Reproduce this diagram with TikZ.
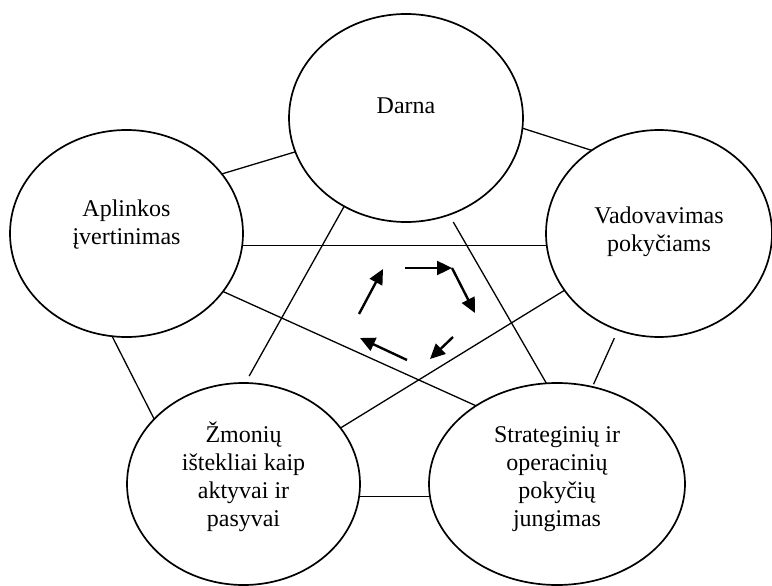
\documentclass[tikz,border=0pt]{standalone}
\usepackage{fontspec}
\setmainfont{Liberation Serif}
\usetikzlibrary{shapes.geometric,arrows.meta,calc}
\begin{document}
\begin{tikzpicture}[x=1pt,y=-1pt,
  oval/.style={draw,ellipse,line width=1.7pt,inner sep=0pt,outer sep=0pt},
  lbl/.style={align=center,font=\fontsize{24}{28}\selectfont,inner sep=0pt},
  link/.style={line width=1.3pt},
  flow/.style={line width=2.4pt,-{Triangle[length=15pt,width=14pt]}}]
\useasboundingbox (0,0) rectangle (772,586);
% ellipses
\node[oval,minimum width=234pt,minimum height=208pt] (D) at (406,118) {};
\node[oval,minimum width=233pt,minimum height=207pt] (A) at (126.5,233.5) {};
\node[oval,minimum width=226pt,minimum height=207pt] (V) at (659,233.5) {};
\node[oval,minimum width=233pt,minimum height=202pt] (Z) at (243.5,484) {};
\node[oval,minimum width=256pt,minimum height=202pt] (S) at (557,484) {};
% labels
\node[lbl] (Dt) at (406,106) {Darna};
\node[lbl] (At) at (126.5,225) {Aplinkos\\įvertinimas};
\node[lbl] (Vt) at (659,231.5) {Vadovavimas\\pokyčiams};
\node[lbl] (Zt) at (243.5,477) {Žmonių\\ištekliai kaip\\aktyvai ir\\pasyvai};
\node[lbl] (St) at (557,479) {Strateginių ir\\operacinių\\pokyčių\\jungimas};
% connectors
\draw[link] (A.32) -- (D.197);
\draw[link] (D.-5.9) -- (V.129.4);
\draw[link] (A.-6.2) -- (A.-6.2 -| V.186.4);
\draw[link,shorten >=8pt] (D.235.9) -- (Z.89);
\draw[link,shorten <=8.5pt] (D.-66.7) -- (S.96.8);
\draw[link] (A.-31.5) -- (S.136.1);
\draw[link] (V.211.7) -- (Z.30.9);
\draw[link,shorten <=9pt,shorten >=3pt] (V.247.2) -- (S.70.7);
\draw[link] (A.262) -- (Z.144.7);
\draw[link] (Z.-6.9) -- (Z.-6.9 -| S.186.3);
% cycle arrows
\coordinate (p1) at (359,314);
\coordinate (p2) at (383,269);
\coordinate (p3) at (405,268);
\coordinate (p4) at (452,268);
\coordinate (p5) at (475,313);
\coordinate (p6) at (453,337);
\coordinate (p7) at (430,359);
\coordinate (p8) at (407,360);
\coordinate (p9) at (360,338);
\draw[flow] (p1) -- (p2);
\draw[flow] (p3) -- (p4);
\draw[flow] (p4) -- (p5);
\draw[flow] (p6) -- (p7);
\draw[flow] (p8) -- (p9);
\end{tikzpicture}
\end{document}
